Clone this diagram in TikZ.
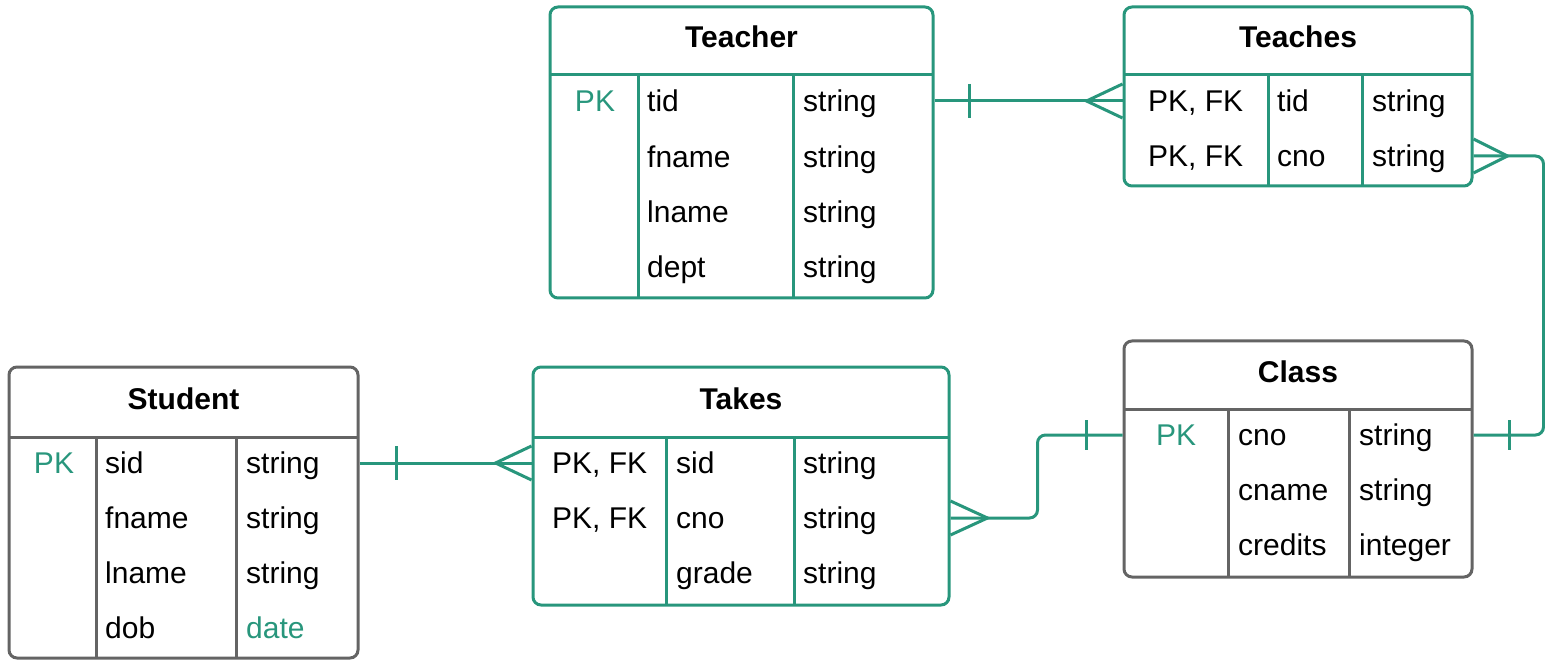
\documentclass[tikz,border=0pt]{standalone}
\usepackage{fontspec}
\setmainfont{Liberation Sans}
\usetikzlibrary{calc}
\definecolor{erteal}{RGB}{40,150,124}
\definecolor{ergray}{RGB}{100,100,100}
\tikzset{
  ent/.style={line width=3pt, rounded corners=8pt, inner sep=0pt},
  tealent/.style={ent, draw=erteal},
  grayent/.style={ent, draw=ergray},
  tealrule/.style={draw=erteal, line width=3pt},
  grayrule/.style={draw=ergray, line width=3pt},
  fld/.style={inner sep=0pt, anchor=west, text height=21.5pt, text depth=0pt, font=\fontsize{30}{36}\selectfont},
  ttl/.style={inner sep=0pt, text height=21.5pt, text depth=0pt, font=\fontsize{30}{36}\selectfont\bfseries},
  pk/.style={fld, anchor=center, text=erteal},
  conn/.style={draw=erteal, line width=3pt},
  elbowconn/.style={conn, rounded corners=8pt},
}
\begin{document}
\begin{tikzpicture}[x=1pt,y=-1pt]
\useasboundingbox (0,0) rectangle (1545,660);

% ---------- Teacher ----------
\node[tealent, minimum width=383pt, minimum height=291pt] (teacher) at (741.5,152.5) {};
\draw[tealrule] (550,75) -- (933,75);
\draw[tealrule] (638,75) -- (638,298);
\draw[tealrule] (793,75) -- (793,298);
\node[ttl] (teacherT) at (741.5,37) {Teacher};
\node[pk] (tchPK) at (595,101) {PK};
\node[fld] (tchTid) at (647,101) {tid};
\node[fld] (tchFn) at (647,157) {fname};
\node[fld] (tchLn) at (647,212) {lname};
\node[fld] (tchDp) at (647,267) {dept};
\node[fld] (tchT1) at (803,101) {string};
\node[fld] (tchT2) at (803,157) {string};
\node[fld] (tchT3) at (803,212) {string};
\node[fld] (tchT4) at (803,267) {string};

% ---------- Teaches ----------
\node[tealent, minimum width=348pt, minimum height=179pt] (teaches) at (1298,96.5) {};
\draw[tealrule] (1124,75) -- (1472,75);
\draw[tealrule] (1268,75) -- (1268,186);
\draw[tealrule] (1362,75) -- (1362,186);
\node[ttl] (teachesT) at (1298,37) {Teaches};
\node[fld] (tsK1) at (1148,101) {PK, FK};
\node[fld] (tsK2) at (1148,156) {PK, FK};
\node[fld] (tsTid) at (1277,101) {tid};
\node[fld] (tsCno) at (1277,156) {cno};
\node[fld] (tsT1) at (1372,101) {string};
\node[fld] (tsT2) at (1372,156) {string};

% ---------- Class ----------
\node[grayent, minimum width=348pt, minimum height=236pt] (class) at (1298,459) {};
\draw[grayrule] (1124,409) -- (1472,409);
\draw[grayrule] (1228,409) -- (1228,577);
\draw[grayrule] (1349,409) -- (1349,577);
\node[ttl] (classT) at (1298,372) {Class};
\node[pk] (clsPK) at (1176,435) {PK};
\node[fld] (clsCno) at (1238,435) {cno};
\node[fld] (clsCn) at (1238,490) {cname};
\node[fld] (clsCr) at (1238,545) {credits};
\node[fld] (clsT1) at (1359,435) {string};
\node[fld] (clsT2) at (1359,490) {string};
\node[fld] (clsT3) at (1359,545) {integer};

% ---------- Student ----------
\node[grayent, minimum width=349pt, minimum height=291pt] (student) at (183.5,512.5) {};
\draw[grayrule] (9,437) -- (358,437);
\draw[grayrule] (96,437) -- (96,658);
\draw[grayrule] (236,437) -- (236,658);
\node[ttl] (studentT) at (183.5,399) {Student};
\node[pk] (stPK) at (54,463) {PK};
\node[fld] (stSid) at (105,463) {sid};
\node[fld] (stFn) at (105,518) {fname};
\node[fld] (stLn) at (105,573) {lname};
\node[fld] (stDob) at (105,628) {dob};
\node[fld] (stT1) at (246,463) {string};
\node[fld] (stT2) at (246,518) {string};
\node[fld] (stT3) at (246,573) {string};
\node[fld, text=erteal] (stT4) at (246,628) {date};

% ---------- Takes ----------
\node[tealent, minimum width=416pt, minimum height=238pt] (takes) at (741,486) {};
\draw[tealrule] (533,437) -- (949,437);
\draw[tealrule] (666,437) -- (666,605);
\draw[tealrule] (794,437) -- (794,605);
\node[ttl] (takesT) at (741,399) {Takes};
\node[fld] (tkK1) at (552,463) {PK, FK};
\node[fld] (tkK2) at (552,518) {PK, FK};
\node[fld] (tkSid) at (676,463) {sid};
\node[fld] (tkCno) at (676,518) {cno};
\node[fld] (tkGr) at (676,573) {grade};
\node[fld] (tkT1) at (803,463) {string};
\node[fld] (tkT2) at (803,518) {string};
\node[fld] (tkT3) at (803,573) {string};

% ---------- Connectors ----------
% Teacher -- Teaches
\coordinate (c1a) at (teacher.east |- tchTid);
\coordinate (c1b) at (teaches.west |- tsTid);
\draw[conn] (c1a) -- (c1b);
\draw[conn] ($(c1a)+(35,-17)$) -- ($(c1a)+(35,17)$);
\draw[conn] ($(c1b)+(0,-17)$) -- ($(c1b)+(-36,0)$) -- ($(c1b)+(0,17)$);

% Teaches -- Class
\coordinate (c2a) at (teaches.east |- tsCno);
\coordinate (c2b) at (class.east |- clsCno);
\draw[elbowconn] (c2a) -- ++(70,0) |- (c2b);
\draw[conn] ($(c2a)+(0,-17)$) -- ($(c2a)+(34,0)$) -- ($(c2a)+(0,17)$);
\draw[conn] ($(c2b)+(36,-15)$) -- ($(c2b)+(36,15)$);

% Student -- Takes
\coordinate (c3a) at (student.east |- stSid);
\coordinate (c3b) at (takes.west |- tkSid);
\draw[conn] (c3a) -- (c3b);
\draw[conn] ($(c3a)+(37,-17)$) -- ($(c3a)+(37,17)$);
\draw[conn] ($(c3b)+(0,-17)$) -- ($(c3b)+(-36,0)$) -- ($(c3b)+(0,17)$);

% Takes -- Class
\coordinate (c4a) at (takes.east |- tkCno);
\coordinate (c4b) at (class.west |- clsCno);
\draw[elbowconn] (c4a) -- ++(87,0) |- (c4b);
\draw[conn] ($(c4a)+(0,-17)$) -- ($(c4a)+(37,0)$) -- ($(c4a)+(0,17)$);
\draw[conn] ($(c4b)+(-36,-15)$) -- ($(c4b)+(-36,15)$);
\end{tikzpicture}
\end{document}
